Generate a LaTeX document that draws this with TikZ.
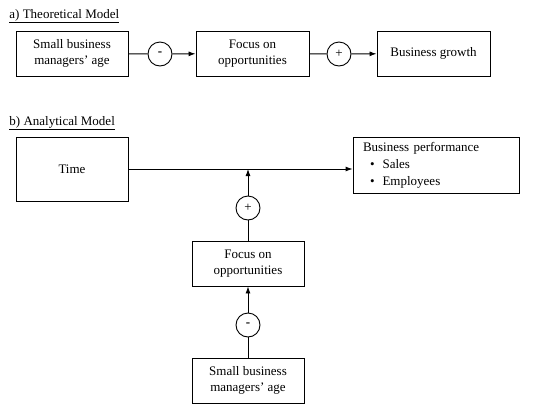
\documentclass[tikz,border=0pt]{standalone}
\usepackage{fontspec}
\setmainfont{Liberation Serif}
\usetikzlibrary{arrows.meta}

\begin{document}
\begin{tikzpicture}[x=1pt,y=-1pt,>={Latex[length=7pt,width=5pt]},line width=0.9pt]
	\tikzstyle{box}=[rectangle,draw=black,line width=0.9pt,align=center,minimum width=112pt,minimum height=45pt,inner sep=2pt,font=\fontsize{13}{16.5}\selectfont]
	\tikzstyle{sign}=[circle,draw=black,line width=0.9pt,minimum size=24pt,inner sep=0pt,font=\fontsize{13}{15}\selectfont]
	\tikzstyle{heading}=[anchor=west,inner sep=0pt,font=\fontsize{13}{15}\selectfont]
	\useasboundingbox (0,0) rectangle (542,405);
	% a) theoretical model
	\node[heading] (ta) at (9,16) {\underline{a) Theoretical Model}};
	\node[box] (1) at (72,53.5) {Small business\\managers' age};
	\node[sign] (2) at (160,54) {\textbf{-}};
	\node[box,minimum width=113pt] (3) at (252.5,53.5) {Focus on\\opportunities};
	\node[sign] (4) at (339,54) {+};
	\node[box,minimum width=113pt] (5) at (433.5,53.5) {Business growth};
	\draw (1) -- (2);
	\draw[->] (2) -- (3);
	\draw (3) -- (4);
	\draw[->] (4) -- (5);
	% b) analytical model
	\node[heading] (tb) at (9,123) {\underline{b) Analytical Model}};
	\node[box,minimum height=64pt] (6) at (72,169) {Time};
	\node[box,align=left,text width=146pt,minimum height=56pt,inner xsep=10pt,font=\fontsize{13}{17}\selectfont] (7) at (436,165) {Business performance\\\hspace*{7pt}\textbullet\hspace{8pt}Sales\\\hspace*{7pt}\textbullet\hspace{8pt}Employees};
	\coordinate (j) at (248,169);
	\node[sign] (8) at (248,208) {+};
	\node[box] (9) at (248,263.5) {Focus on\\opportunities};
	\node[sign] (10) at (248,325) {\textbf{-}};
	\node[box] (11) at (248,380.5) {Small business\\managers' age};
	\draw[->] (6.east) -- (6.east -| 7.west);
	\draw[->] (8) -- (j);
	\draw (9) -- (8);
	\draw[->] (10) -- (9);
	\draw (11) -- (10);
\end{tikzpicture}
\end{document}
